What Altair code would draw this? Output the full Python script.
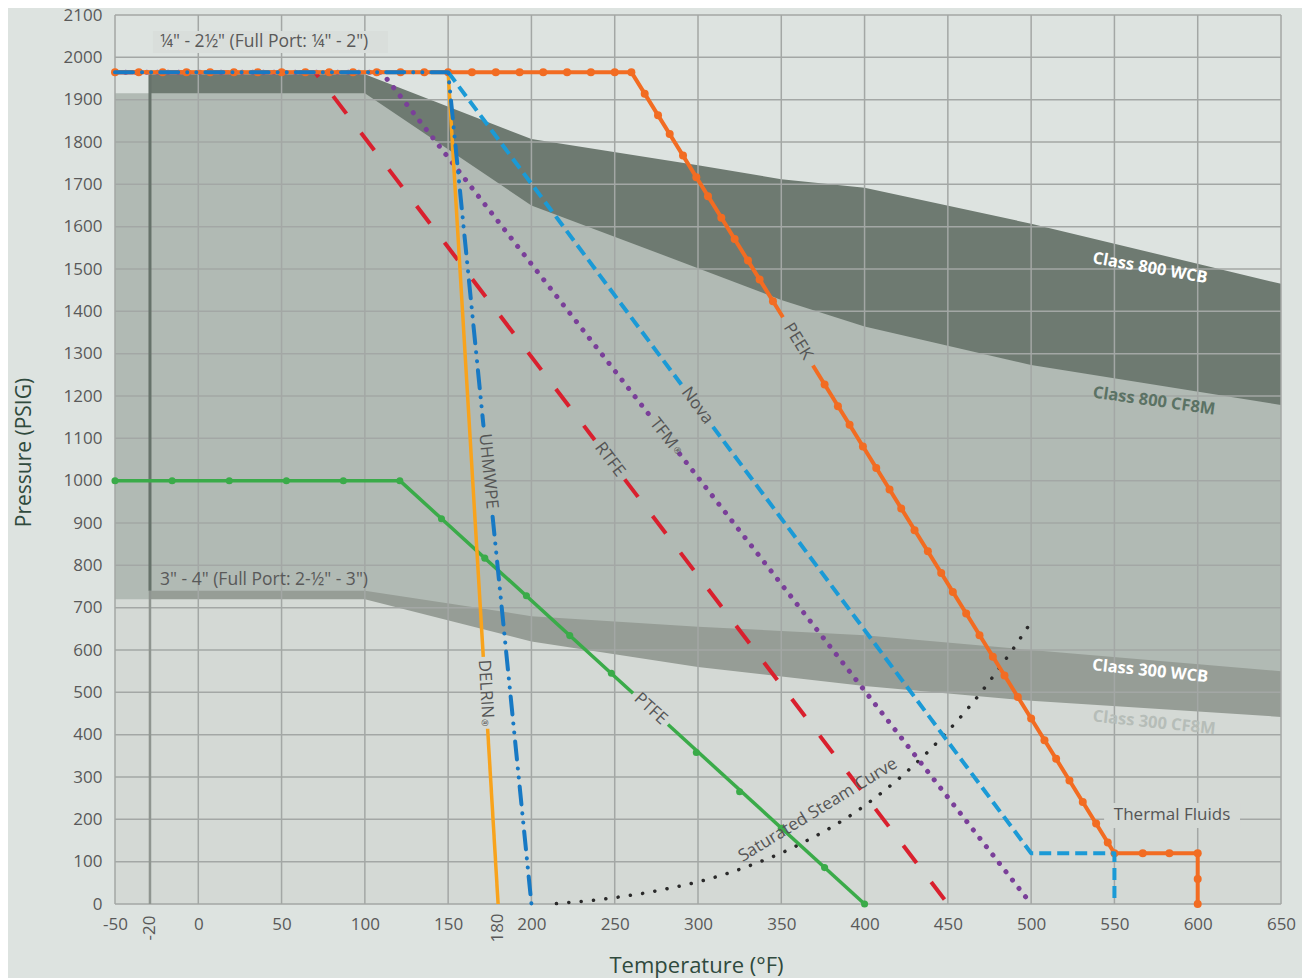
import altair as alt
import pandas as pd

W, H = 1166, 889

# ---------------- axis ticks ----------------
x_ticks = [-50, 0, 50, 100, 150, 200, 250, 300, 350, 400, 450, 500, 550, 600, 650]
y_ticks = [0, 100, 200, 300, 400, 500, 600, 700, 800, 900, 1000, 1100, 1200, 1300,
           1400, 1500, 1600, 1700, 1800, 1900, 2000, 2100]
# the "-20" line sits at about -29 on the drawn scale of the reference
x_special = [-29, 180]
x_special_lab = ["-20", "180"]

# ---------------- body rating bands ----------------
wcb800_x = [-29, 100, 200, 300, 350, 400, 500, 650]
wcb800_y = [1960, 1960, 1807, 1745, 1712, 1692, 1607, 1465]
cf8m800_x = [-50, 100, 200, 300, 350, 400, 500, 650]
cf8m800_y = [1915, 1915, 1650, 1502, 1427, 1364, 1273, 1179]
wcb300_x = [-29, 100, 200, 300, 400, 500, 650]
wcb300_y = [740, 740, 680, 655, 635, 600, 550]
cf8m300_x = [-50, 100, 200, 300, 400, 500, 650]
cf8m300_y = [720, 720, 620, 560, 515, 480, 442]

# ---------------- seat material curves (seg = piece, broken by labels) ----------------
peek_x = [-50, 260, 351, 369, 550, 600, 600]
peek_y = [1965, 1965, 1386, 1272, 120, 120, 0]
peek_s = [0, 0, 0, 1, 1, 1, 1]
peek_mx = [-50, -35.7, -21.4, -7.1, 7.1, 21.4, 35.7, 50, 64.3, 78.6, 92.9, 107.1, 121.4,
           135.7, 150, 164.3, 178.6, 192.9, 207.1, 221.4, 235.7, 250, 260,
           268, 276, 283, 291, 299, 306, 314, 322, 330, 337, 345,
           376, 384, 391, 399, 407, 415, 422, 430, 438, 446, 453, 461, 469, 477, 484,
           492, 500, 508, 515, 523, 531, 539, 546, 550, 567, 583, 600, 600, 600]
peek_my = [1965] * 23 + [1914, 1863, 1819, 1768, 1717, 1672, 1621, 1571, 1520, 1475, 1424,
           1227, 1176, 1132, 1081, 1030, 979, 934, 883, 833, 782, 737, 686, 635, 584, 540,
           489, 438, 387, 343, 292, 241, 190, 145, 120, 120, 120, 120, 59, 0]

ptfe_x = [-50, 121, 261, 282, 400]
ptfe_y = [1000, 1000, 498, 424, 0]
ptfe_s = [0, 0, 0, 1, 1]
ptfe_mx = [-50, -15.7, 18.6, 52.9, 87.1, 121, 146, 172, 197, 223, 248, 299, 325, 350, 376, 400]
ptfe_my = [1000, 1000, 1000, 1000, 1000, 1000, 910, 817, 728, 634, 545, 358, 265, 179, 86, 0]

rtfe_x = [-50, 70, 238, 256, 450]
rtfe_y = [1965, 1965, 1096, 1003, 0]
rtfe_s = [0, 0, 0, 1, 1]

tfm_x = [-50, 110, 271, 289, 500]
tfm_y = [1965, 1965, 1154, 1063, 0]
tfm_s = [0, 0, 0, 1, 1]

nova_x = [150, 290, 309, 500, 550, 550]
nova_y = [1965, 1227, 1127, 120, 120, 0]
nova_s = [0, 0, 1, 1, 1, 1]

uhmw_x = [-50, 150, 171.2, 176.7, 200]
uhmw_y = [1965, 1965, 1130, 915, 0]
uhmw_s = [0, 0, 0, 1, 1]

delrin_x = [-50, 150, 171.1, 173.7, 180]
delrin_y = [1965, 1965, 584, 414, 0]
delrin_s = [0, 0, 0, 1, 1]

steam_x = [215, 220, 230, 240, 250, 260, 270, 280, 290, 300, 310, 320, 330, 340, 350, 360,
           370, 380, 390, 400, 410, 420, 430, 440, 450, 460, 470, 480, 490, 500]
steam_y = [1, 3, 6, 10, 15, 21, 27, 35, 43, 52, 63, 75, 89, 104, 120, 139, 159, 181, 205,
           232, 262, 294, 329, 367, 408, 452, 500, 552, 607, 666]

# ---------------- labels ----------------
lab_t = ["PEEK", "Nova", "TFM", "RTFE", "UHMWPE", "DELRIN", "PTFE"]
lab_x = [360, 299.5, 279.3, 247, 174, 172.4, 271.5]
lab_y = [1329, 1177, 1112, 1050, 1022, 508, 461]
lab_a = [58.3, 53.3, 52, 52.7, 84.3, 86.6, 42.3]

reg_x = [287.6, 171.9]
reg_y = [1071, 428]
reg_a = [52, 86.6]

cls_t = ["Class 800 WCB", "Class 800 CF8M", "Class 300 WCB", "Class 300 CF8M"]
cls_x = [571.4, 573.8, 571.4, 573.8]
cls_y = [1502, 1188, 550, 428]
cls_a = [10, 8, 6, 6]
cls_c = ["#ffffff", "#5b7264", "#ffffff", "#b6bdb8"]

note_t = ['¼" - 2½" (Full Port: ¼" - 2")', '3" - 4" (Full Port: 2-½" - 3")']
note_x = [-23, -23]
note_y = [2036, 765]

box_x = [-27.2, 543.8]
box_x2 = [113.9, 625.4]
box_y = [2010, 179.5]
box_y2 = [2062, 238.6]
box_c = ["#d9dedb", "#d4d9d5"]

steam_lab = "Saturated Steam Curve"
thermal_lab = "Thermal Fluids"

# ---------------- encodings ----------------
FONT = "Open Sans"
TXT = "#595959"
xs = alt.Scale(domain=[-50, 650], nice=False, zero=False)
ysc = alt.Scale(domain=[0, 2100], nice=False, zero=False)
X = alt.X("x:Q", scale=xs, axis=alt.Axis(
    values=x_ticks, title="Temperature (°F)", grid=False, ticks=False, domain=False,
    labelFontSize=17, labelColor=TXT, labelPadding=12, labelFont=FONT,
    labelExpr="'' + datum.value", labelFlush=False, labelOverlap=False,
    titleFontSize=22, titleColor="#2f4a3d", titleFontWeight="normal", titleFont=FONT,
    titleX=581, titleY=61, titleBaseline="middle", titleAlign="center"))
Y = alt.Y("y:Q", scale=ysc, axis=alt.Axis(
    values=y_ticks, title="Pressure (PSIG)", grid=False, ticks=False, domain=False,
    labelFontSize=17, labelColor=TXT, labelPadding=13, labelFont=FONT,
    labelExpr="'' + datum.value", labelOverlap=False, labelFlush=False,
    titleFontSize=21, titleColor="#2f4a3d", titleFontWeight="normal", titleFont=FONT,
    titleX=-91, titleY=437, titleAngle=270, titleBaseline="middle", titleAlign="center"))


def area_layer(xv, yv, color):
    df = pd.DataFrame({"x": xv, "y": yv})
    return alt.Chart(df).mark_area(color=color, opacity=1, interpolate="linear").encode(
        x=X, y=Y, y2=alt.datum(0))


def line_layer(xv, yv, seg, color, width, dash=None, cap="butt"):
    df = pd.DataFrame({"x": xv, "y": yv, "seg": seg, "i": list(range(len(xv)))})
    kw = dict(color=color, strokeWidth=width, strokeCap=cap, strokeJoin="round")
    if dash:
        kw["strokeDash"] = dash
    return alt.Chart(df).mark_line(**kw).encode(
        x=X, y=Y, detail="seg:N", order="i:Q")


def marker_layer(xv, yv, color, size):
    df = pd.DataFrame({"x": xv, "y": yv})
    return alt.Chart(df).mark_point(filled=True, shape="circle", size=size, color=color,
                                    opacity=1).encode(x=X, y=Y)


areas = [
    area_layer(wcb800_x, wcb800_y, "#6e7a71"),
    area_layer(cf8m800_x, cf8m800_y, "#b1bab4"),
    area_layer(wcb300_x, wcb300_y, "#969d96"),
    area_layer(cf8m300_x, cf8m300_y, "#d4d9d5"),
]

grid_x = alt.Chart(pd.DataFrame({"x": x_ticks})).mark_rule(
    color="#a3a7a5", strokeWidth=1.5).encode(x=X, y=alt.value(0), y2=alt.value(H))
grid_y = alt.Chart(pd.DataFrame({"y": y_ticks})).mark_rule(
    color="#a3a7a5", strokeWidth=1.5).encode(y=Y, x=alt.value(0), x2=alt.value(W))
m20_low = alt.Chart(pd.DataFrame({"x": [x_special[0]], "y": [0], "y2": [740]})).mark_rule(
    color="#8f9590", strokeWidth=2.5).encode(x=X, y=Y, y2="y2:Q")
m20_high = alt.Chart(pd.DataFrame({"x": [x_special[0]], "y": [740], "y2": [1960]})).mark_rule(
    color="#66726a", strokeWidth=3).encode(x=X, y=Y, y2="y2:Q")

boxes = alt.Chart(pd.DataFrame({"x": box_x, "x2": box_x2, "y": box_y, "y2": box_y2,
                                "c": box_c})).mark_rect().encode(
    x=X, x2="x2:Q", y=Y, y2="y2:Q", color=alt.Color("c:N", scale=None))

lines = [
    line_layer(steam_x, steam_y, [0] * len(steam_x), "#2a2a2a", 3.5, [0.1, 12.3], "round"),
    line_layer(ptfe_x, ptfe_y, ptfe_s, "#3aab49", 3.5),
    marker_layer(ptfe_mx, ptfe_my, "#3aab49", 50),
    line_layer(rtfe_x, rtfe_y, rtfe_s, "#d9202e", 4, [22, 24]),
    line_layer(tfm_x, tfm_y, tfm_s, "#7a3f99", 5, [0.1, 10.5], "round"),
    line_layer(delrin_x, delrin_y, delrin_s, "#f8a31c", 3.5),
    line_layer(peek_x, peek_y, peek_s, "#f26c22", 4),
    marker_layer(peek_mx, peek_my, "#f26c22", 64),
    line_layer(nova_x, nova_y, nova_s, "#1b9ad6", 4, [12, 6]),
    line_layer(uhmw_x, uhmw_y, uhmw_s, "#1779c4", 4, [18, 9, 0.1, 9, 0.1, 9], "round"),
]

line_labels = alt.Chart(pd.DataFrame({"x": lab_x, "y": lab_y, "t": lab_t, "a": lab_a})).mark_text(
    fontSize=17, color="#555555", font=FONT, baseline="middle", align="center").encode(
    x=X, y=Y, text="t:N", angle=alt.Angle("a:Q", scale=None))

reg_marks = alt.Chart(pd.DataFrame({"x": reg_x, "y": reg_y, "a": reg_a,
                                    "t": ["®", "®"]})).mark_text(
    fontSize=9, color="#555555", font=FONT, baseline="middle", align="center").encode(
    x=X, y=Y, text="t:N", angle=alt.Angle("a:Q", scale=None))

class_labels = alt.Chart(pd.DataFrame({"x": cls_x, "y": cls_y, "t": cls_t, "a": cls_a,
                                       "c": cls_c})).mark_text(
    fontSize=16.5, fontWeight="bold", font=FONT, baseline="middle", align="center").encode(
    x=X, y=Y, text="t:N", angle=alt.Angle("a:Q", scale=None), color=alt.Color("c:N", scale=None))

notes = alt.Chart(pd.DataFrame({"x": note_x, "y": note_y, "t": note_t})).mark_text(
    fontSize=17.5, color=TXT, font=FONT, baseline="middle", align="left").encode(
    x=X, y=Y, text="t:N")

steam_text = alt.Chart(pd.DataFrame({"x": [372], "y": [222], "t": [steam_lab]})).mark_text(
    fontSize=17, color="#555555", font=FONT, baseline="middle", align="center", angle=328.5).encode(
    x=X, y=Y, text="t:N")

thermal_text = alt.Chart(pd.DataFrame({"x": [584.6], "y": [210], "t": [thermal_lab]})).mark_text(
    fontSize=17, color="#555555", font=FONT, baseline="middle", align="center").encode(
    x=X, y=Y, text="t:N")

special_ticks = alt.Chart(pd.DataFrame({"x": x_special, "t": x_special_lab})).mark_text(
    fontSize=17, color=TXT, font=FONT, baseline="middle", align="center", angle=270).encode(
    x=X, y=alt.value(H + 24), text="t:N")

chart = alt.layer(
    *areas, grid_x, grid_y, m20_low, m20_high, boxes, *lines,
    line_labels, reg_marks, class_labels, notes, steam_text, thermal_text, special_ticks
).properties(
    width=W, height=H,
    autosize=alt.AutoSizeParams(type="none"),
    padding={"left": 107, "top": 7, "right": 21, "bottom": 75},
    background="#dde3e0",
).configure_view(fill="white", stroke="#34503f", strokeWidth=1.5).configure(font=FONT)

chart.save("out.html", embed_options={"renderer": "svg", "actions": False})
